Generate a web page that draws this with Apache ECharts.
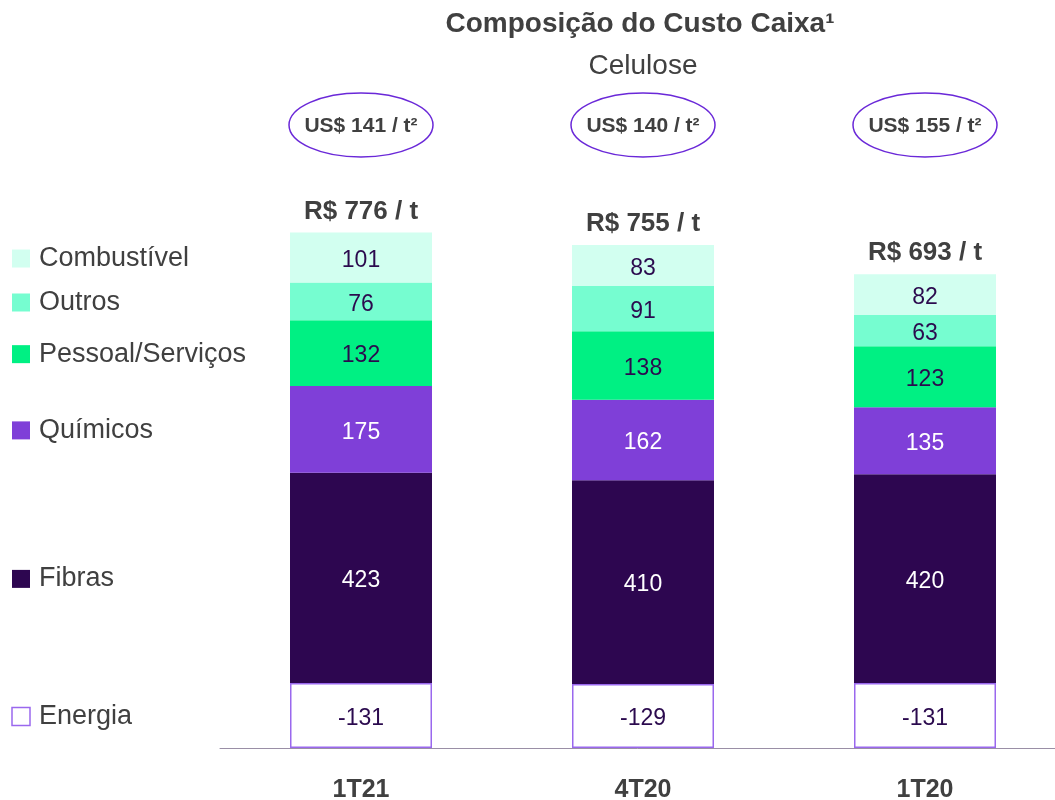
<!DOCTYPE html>
<html>
<head>
<meta charset="utf-8">
<script src="https://cdn.jsdelivr.net/npm/echarts@6/dist/echarts.min.js"></script>
<style>
  html, body { margin: 0; padding: 0; background: #fff; }
  #grafico { width: 1055px; height: 800px; }
</style>
</head>
<body>
<div id="grafico"></div>
<script>
// dados
var periodos = ['1T21', '4T20', '1T20'];
var energia = [-131, -129, -131];
var fibras = [423, 410, 420];
var quimicos = [175, 162, 135];
var pessoal = [132, 138, 123];
var outros = [76, 91, 63];
var combustivel = [101, 83, 82];
var totalRS = [776, 755, 693];
var custoUSD = [141, 140, 155];

var textColor = '#404040';
var labelDark = '#2b0a4e';
var fontFam = '"Liberation Sans", Arial, sans-serif';

var dom = document.getElementById('grafico');
var myChart = echarts.init(dom, null, { renderer: 'canvas' });

function segLabel(color) {
  return {
    show: true,
    position: 'inside',
    offset: [0, 3],
    color: color,
    fontSize: 23,
    fontFamily: fontFam
  };
}

var camadas = [
  { name: 'Energia', data: energia.map(function (v) { return Math.abs(v); }), color: '#ffffff', border: '#9a68ee', lbl: labelDark },
  { name: 'Fibras', data: fibras, color: '#2d0650', lbl: '#ffffff' },
  { name: 'Químicos', data: quimicos, color: '#7f3fd8', lbl: '#ffffff' },
  { name: 'Pessoal/Serviços', data: pessoal, color: '#00f083', lbl: labelDark },
  { name: 'Outros', data: outros, color: '#76fdd0', lbl: labelDark },
  { name: 'Combustível', data: combustivel, color: '#d2fff0', lbl: labelDark }
];

var series = camadas.map(function (c, i) {
  var s = {
    name: c.name,
    type: 'bar',
    stack: 'custo',
    barWidth: 142,
    data: c.data,
    itemStyle: { color: c.color },
    label: segLabel(c.lbl)
  };
  if (c.border) {
    s.itemStyle.borderColor = c.border;
    s.itemStyle.borderWidth = 1.5;
    s.label.formatter = function (p) { return String(energia[p.dataIndex]); };
  }
  return s;
});

// total no topo da pilha
series.push({
  name: 'Total',
  type: 'bar',
  stack: 'custo',
  barWidth: 142,
  data: totalRS.map(function () { return 0; }),
  itemStyle: { color: 'transparent' },
  label: {
    show: true,
    position: 'top',
    distance: 8,
    color: textColor,
    fontSize: 26,
    fontWeight: 'bold',
    fontFamily: fontFam,
    formatter: function (p) { return 'R$ ' + totalRS[p.dataIndex] + ' / t'; }
  }
});

var option = {
  backgroundColor: '#ffffff',
  animation: false,
  grid: { left: 220, right: -11, top: 152, bottom: 52, outerBoundsMode: 'none', containLabel: false },
  xAxis: {
    type: 'category',
    data: periodos,
    axisLine: { lineStyle: { color: '#9a8fa6', width: 1 } },
    axisTick: { show: false },
    axisLabel: {
      color: textColor,
      fontSize: 25,
      fontWeight: 'bold',
      fontFamily: fontFam,
      margin: 30
    }
  },
  yAxis: {
    type: 'value',
    min: 0,
    max: 1200,
    show: false,
    splitLine: { show: false }
  },
  series: series
};

myChart.setOption(option);

// elementos extras: titulo, elipses e legenda alinhada a primeira barra
var g = [];
var xTitulo = myChart.convertToPixel({ gridIndex: 0 }, [1, 0])[0];
g.push({
  type: 'text', x: xTitulo - 3, y: 24,
  style: { text: 'Composição do Custo Caixa¹', fill: textColor, font: 'bold 28px ' + fontFam, align: 'center', verticalAlign: 'middle' }
});
g.push({
  type: 'text', x: xTitulo, y: 66,
  style: { text: 'Celulose', fill: textColor, font: '28px ' + fontFam, align: 'center', verticalAlign: 'middle' }
});

periodos.forEach(function (p, i) {
  var cx = myChart.convertToPixel({ gridIndex: 0 }, [i, 0])[0];
  g.push({
    type: 'ellipse',
    shape: { cx: cx, cy: 125, rx: 72, ry: 32 },
    style: { fill: 'none', stroke: '#6a28d8', lineWidth: 1.5 }
  });
  g.push({
    type: 'text', x: cx, y: 126,
    style: { text: 'US$ ' + custoUSD[i] + ' / t²', fill: textColor, font: 'bold 21px ' + fontFam, align: 'center', verticalAlign: 'middle' }
  });
});

var base = 0;
camadas.forEach(function (c) {
  var v = c.data[0];
  var yc = myChart.convertToPixel({ gridIndex: 0 }, [0, base + v / 2])[1];
  base += v;
  g.push({
    type: 'rect',
    shape: { x: 12, y: yc - 8, width: 18, height: 18 },
    style: { fill: c.color, stroke: c.border || c.color, lineWidth: c.border ? 1.5 : 0 }
  });
  g.push({
    type: 'text', x: 39, y: yc + 1,
    style: { text: c.name, fill: textColor, font: '27px ' + fontFam, verticalAlign: 'middle' }
  });
});

myChart.setOption({ graphic: g });

window.addEventListener('resize', myChart.resize);
</script>
</body>
</html>
